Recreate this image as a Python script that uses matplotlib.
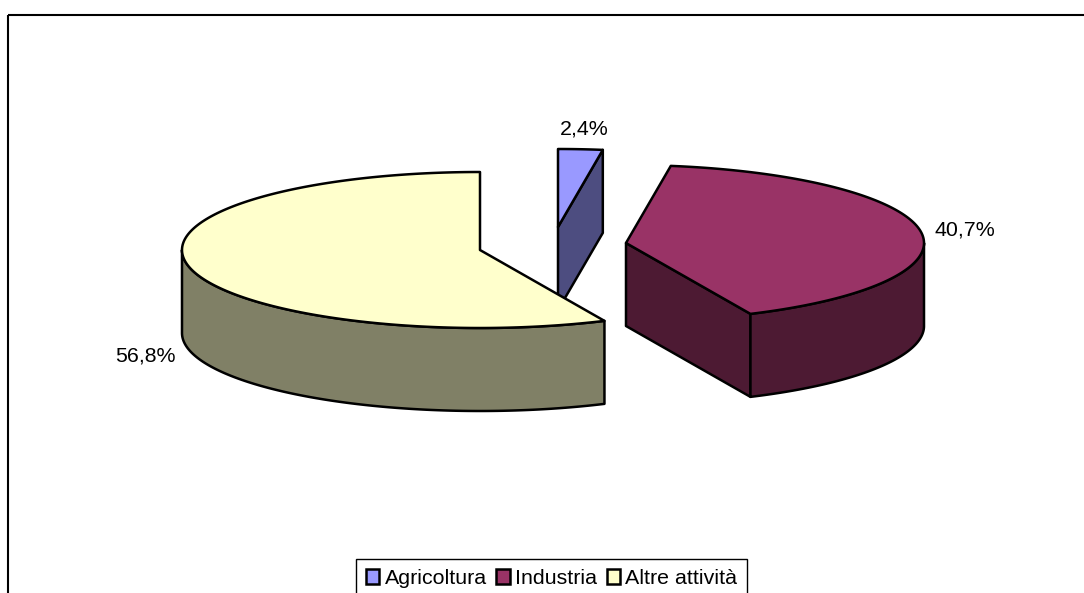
import numpy as np
import matplotlib
matplotlib.use("Agg")
import matplotlib.pyplot as plt
from matplotlib.patches import Polygon, Patch, Rectangle

categories = ["Agricoltura", "Industria", "Altre attività"]
values = [2.4, 40.7, 56.8]
labels = ["2,4%", "40,7%", "56,8%"]
topColors = ["#9999FF", "#993366", "#FFFFCC"]
sideColors = ["#4D4D80", "#4D1A33", "#808066"]

# slice centres after the explosion, in pixels
centers = [(558, 227), (626, 243), (480, 250)]
labelPos = [(584, 129), (965, 230), (145, 356)]
rx = 298
ry = 78
depth = 83
lw = 1.8
fontSize = 15.4

plt.rcParams["font.family"] = ["Liberation Sans", "DejaVu Sans"]

fig = plt.figure(figsize=(10.84, 5.93), dpi=100)
ax = fig.add_axes([0, 0, 1, 1])
ax.set_xlim(0, 1084)
ax.set_ylim(593, 0)
ax.axis("off")

# chart frame, runs off the right and bottom of the picture
ax.add_patch(Rectangle((8, 15), 1200, 700, fill=False, ec="black", lw=1.5, zorder=1))


def rim(center, a, b):
    # points on the ellipse, angles clockwise from 12 o'clock
    t = np.radians(np.linspace(a, b, 200))
    return np.column_stack([center[0] + rx * np.sin(t), center[1] - ry * np.cos(t)])


def add_poly(pts, color, z):
    ax.add_patch(Polygon(pts, closed=True, fc=color, ec="black", lw=lw, joinstyle="round", zorder=z))


total = sum(values)
ends = np.cumsum(values) / total * 360
starts = np.concatenate([[0], ends[:-1]])
down = np.array([0, depth])

for i in range(len(values)):
    c = np.array(centers[i])
    a, b = starts[i], ends[i]
    z = 2 + i
    # cut face along the end edge, seen for the slices right of centre
    if b < 180:
        edge = rim(c, b, b)[0]
        add_poly([c, edge, edge + down, c + down], sideColors[i], z)
    # outer wall, only the part facing the viewer
    wa, wb = max(a, 90), min(b, 270)
    if wa < wb:
        arc = rim(c, wa, wb)
        add_poly(np.vstack([arc, (arc + down)[::-1]]), sideColors[i], z)
    add_poly(np.vstack([[c], rim(c, a, b)]), topColors[i], z)
    ax.text(labelPos[i][0], labelPos[i][1], labels[i], fontsize=fontSize, ha="center", va="center", zorder=10)

handles = [Patch(fc=topColors[i], ec="black", lw=lw, label=categories[i]) for i in range(3)]
leg = ax.legend(handles=handles, ncol=3, loc="upper left", bbox_to_anchor=(356, 559),
                bbox_transform=ax.transData, fontsize=fontSize, fancybox=False, framealpha=1,
                edgecolor="black", handlelength=0.62, handleheight=0.66, handletextpad=0.25,
                columnspacing=0.45, borderpad=0.47, borderaxespad=0, labelspacing=0)
leg.get_frame().set_linewidth(1.0)
leg.set_zorder(11)

fig.savefig("out.png", dpi=100)
